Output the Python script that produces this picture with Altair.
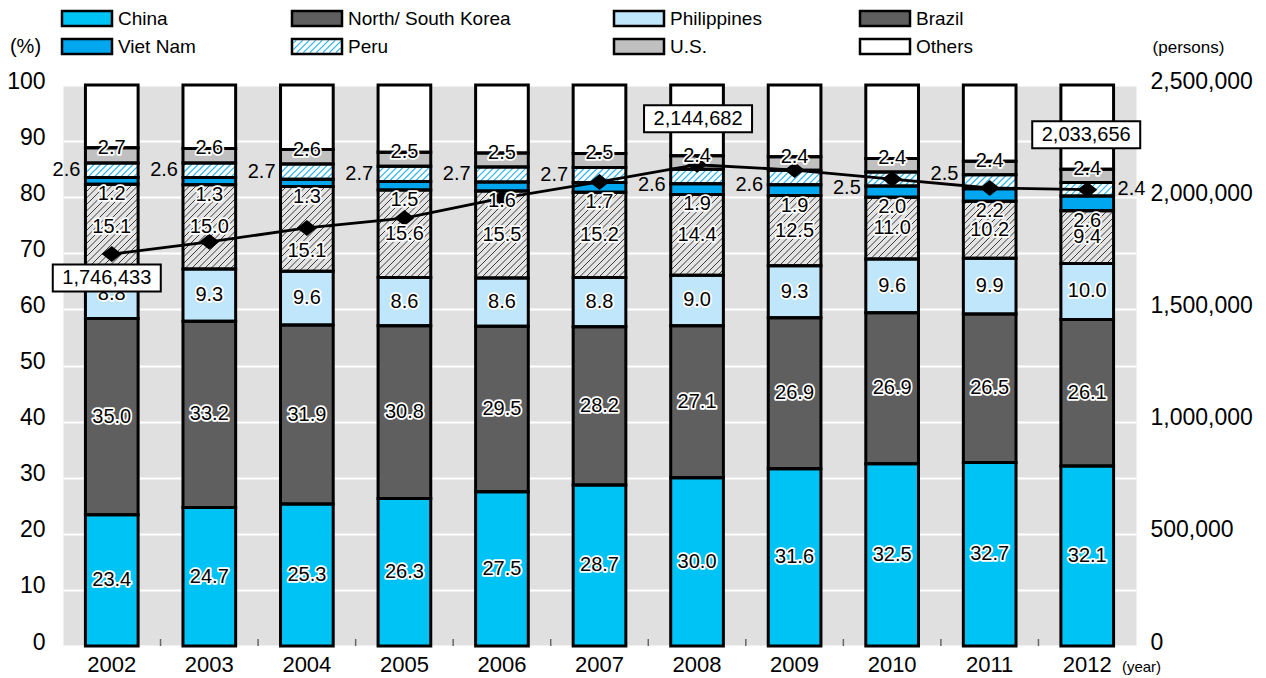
import math
import altair as alt
import pandas as pd

# ---- data: share of registered foreign residents by nationality (%) ----
years = [str(y) for y in range(2002, 2013)]
china = [23.4, 24.7, 25.3, 26.3, 27.5, 28.7, 30.0, 31.6, 32.5, 32.7, 32.1]
korea = [35.0, 33.2, 31.9, 30.8, 29.5, 28.2, 27.1, 26.9, 26.9, 26.5, 26.1]
philippines = [8.8, 9.3, 9.6, 8.6, 8.6, 8.8, 9.0, 9.3, 9.6, 9.9, 10.0]
brazil = [15.1, 15.0, 15.1, 15.6, 15.5, 15.2, 14.4, 12.5, 11.0, 10.2, 9.4]
vietnam = [1.2, 1.3, 1.3, 1.5, 1.6, 1.7, 1.9, 1.9, 2.0, 2.2, 2.6]
peru = [2.6, 2.6, 2.7, 2.7, 2.7, 2.7, 2.6, 2.6, 2.5, 2.5, 2.4]
us = [2.7, 2.6, 2.6, 2.5, 2.5, 2.5, 2.4, 2.4, 2.4, 2.4, 2.4]
others = [round(100 - sum(v), 1) for v in zip(china, korea, philippines, brazil, vietnam, peru, us)]

# total number of residents (persons), right axis
total_persons = [1746433, 1801000, 1863000, 1907000, 1996000, 2068000,
                 2144682, 2121000, 2081000, 2041000, 2033656]
labelled_years = ["2002", "2008", "2012"]

countries = ["China", "North/ South Korea", "Philippines", "Brazil",
             "Viet Nam", "Peru", "U.S.", "Others"]
series = [china, korea, philippines, brazil, vietnam, peru, us, others]

# ---- styling / layout ----
bar_fill = ["#00c3f5", "#5f5f5f", "#bfe6fa", "#e4e4e4", "#00a7ee", "#ffffff", "#c0c0c0", "#ffffff"]
legend_fill = ["#00c3f5", "#5f5f5f", "#bfe6fa", "#5f5f5f", "#00a7ee", "#ffffff", "#c0c0c0", "#ffffff"]
FONT = "Liberation Sans"

W, H = 1073, 561
PAD = {"left": 63, "top": 85, "right": 130, "bottom": 32}
N = len(years)
STEP = W / N
P_IN, P_OUT = 0.46, 0.23
BAND = STEP * (1 - P_IN)
PPU = H / 100.0
HATCH_GAP = 6.5

# label nudges in pixels (positive = down) so labels clear the line
LABEL_NUDGE = {("Brazil", "2004"): 22, ("Peru", "2008"): 9, ("Peru", "2009"): 7,
               ("Peru", "2010"): 9, ("Peru", "2011"): -8}

# ---- long table of stacked segments ----
rows = []
for i, yr in enumerate(years):
    base = 0.0
    for name, vals in zip(countries, series):
        v = vals[i]
        nudge = LABEL_NUDGE.get((name, yr), 0) / PPU
        rows.append(dict(year=yr, idx=i, country=name, value=v,
                         y0=base, y1=base + v, mid=base + v / 2 - nudge,
                         label=f"{v:.1f}"))
        base += v
seg = pd.DataFrame(rows)


def hatch_lines(left, right, top, bottom, gap):
    """Diagonal '/' lines clipped to a pixel rectangle (y grows downward)."""
    out = []
    k0 = int(math.floor((left + top) / gap))
    k1 = int(math.ceil((right + bottom) / gap))
    for k in range(k0, k1 + 1):
        c = k * gap
        xa = max(left, c - bottom)
        xb = min(right, c - top)
        if xb - xa > 0.4:
            out.append(dict(x=xa, y=c - xa, x2=xb, y2=c - xb))
    return out


def segment_hatch(country):
    out = []
    for r in seg[seg.country == country].itertuples():
        left = STEP * (r.idx + P_OUT)
        out += hatch_lines(left, left + BAND, H - r.y1 * PPU, H - r.y0 * PPU, HATCH_GAP)
    return pd.DataFrame(out)


brazil_hatch = segment_hatch("Brazil")
peru_hatch_rows = segment_hatch("Peru").to_dict("records")

# ---- legend table (pixel coordinates relative to plot origin) ----
LEG_COL_X = [-1, 229, 551, 797]
LEG_ROW_Y = [-66.5, -38.5]
SW_W, SW_H = 50, 15
leg_rows = []
for k, name in enumerate(countries):
    x0 = LEG_COL_X[k % 4]
    yc = LEG_ROW_Y[k // 4]
    leg_rows.append(dict(country=name, x=x0, x2=x0 + SW_W, y=yc - SW_H / 2,
                         y2=yc + SW_H / 2, tx=x0 + 56, ty=yc))
    if name == "Peru":
        peru_hatch_rows += hatch_lines(x0 + 1.3, x0 + SW_W - 1.3,
                                       yc - SW_H / 2 + 1.3, yc + SW_H / 2 - 1.3, HATCH_GAP)
legend_df = pd.DataFrame(leg_rows)
peru_hatch = pd.DataFrame(peru_hatch_rows)

ticks_df = pd.DataFrame({"x": [STEP * i for i in range(1, N)]})
ticks_df["y"] = H - 7
ticks_df["y2"] = H

persons_df = pd.DataFrame({"year": years, "persons": total_persons})
boxes_df = persons_df[persons_df.year.isin(labelled_years)].copy()
boxes_df["label"] = boxes_df.persons.map(lambda v: f"{v:,}")
BOX_OFFSETS = {"2002": (-5, 24), "2008": (1, -46), "2012": (-1, -55)}

# ---- scales ----
XS = alt.Scale(domain=years, paddingInner=P_IN, paddingOuter=P_OUT)
YS = alt.Scale(domain=[0, 100], nice=False)
RYS = alt.Scale(domain=[0, 2500000], nice=False)
PXS = alt.Scale(domain=[0, W], nice=False, zero=False)
PYS = alt.Scale(domain=[0, H], nice=False, zero=False, reverse=True)


def bx(**kw):
    return alt.X("year:O", scale=XS, axis=None, **kw)


def py(field):
    return alt.Y(f"{field}:Q", scale=YS, axis=None)


def px_enc():
    return dict(x=alt.X("x:Q", scale=PXS, axis=None), x2="x2:Q",
                y=alt.Y("y:Q", scale=PYS, axis=None), y2="y2:Q")


fill_scale = alt.Scale(domain=countries, range=bar_fill)

# ---- bars ----
bars = alt.Chart(seg).mark_bar(strokeWidth=0).encode(
    x=alt.X("year:O", scale=XS, axis=alt.Axis(
        labelAngle=0, labelFontSize=22, labelPadding=8, labelColor="black",
        ticks=False, domain=False, title="(year)", titleX=1078, titleY=20,
        titleFontSize=15, titleFontWeight="normal", titleAlign="center",
        titleBaseline="middle", titleColor="black")),
    y=alt.Y("y0:Q", scale=YS, axis=alt.Axis(
        values=list(range(0, 101, 10)), labelFontSize=23, labelColor="black",
        labelPadding=18, labelOffset=-4, ticks=False, domain=False,
        grid=True, gridColor="white", gridWidth=2,
        title="(%)", titleAngle=0, titleX=-38, titleY=-39, titleFontSize=20,
        titleFontWeight="normal", titleAlign="center", titleBaseline="middle",
        titleColor="black")),
    y2="y1:Q",
    color=alt.Color("country:N", scale=fill_scale, legend=None),
)

brazil_hatch_layer = alt.Chart(brazil_hatch).mark_rule(
    color="#3a3a3a", strokeWidth=1).encode(**px_enc())
peru_hatch_layer = alt.Chart(peru_hatch).mark_rule(
    color="#29b3ee", strokeWidth=1.2).encode(**px_enc())

outlines = alt.Chart(seg).mark_bar(
    fill="white", fillOpacity=0, stroke="black", strokeWidth=3).encode(
    x=bx(), y=py("y0"), y2="y1:Q")

x_ticks = alt.Chart(ticks_df).mark_rule(color="#666666", strokeWidth=1.5).encode(
    x=alt.X("x:Q", scale=PXS, axis=None),
    y=alt.Y("y:Q", scale=PYS, axis=None), y2="y2:Q")

# ---- total persons line ----
line = alt.Chart(persons_df).mark_line(color="black", strokeWidth=2.8).encode(
    x=bx(),
    y=alt.Y("persons:Q", scale=RYS, axis=alt.Axis(
        orient="right", values=[0, 500000, 1000000, 1500000, 2000000, 2500000],
        format=",.0f", labelFontSize=23, labelColor="black", labelPadding=14,
        labelOffset=-4, ticks=False, domain=False, grid=False,
        title="(persons)", titleAngle=0, titleX=52, titleY=-38, titleFontSize=17,
        titleFontWeight="normal", titleAlign="center", titleBaseline="middle",
        titleColor="black")),
)
diamonds = alt.Chart(persons_df).mark_point(
    shape="M-1,0L0,-0.8L1,0L0,0.8Z", size=400, filled=True, color="black",
    opacity=1).encode(x=bx(), y=alt.Y("persons:Q", scale=RYS, axis=None))


# ---- segment value labels ----
def halo_text(data, y_field, size=20, **mk):
    base = alt.Chart(data).encode(x=bx(), y=py(y_field), text="label:N")
    return [base.mark_text(stroke="white", strokeWidth=3.5, strokeJoin="round",
                           fill="white", fontSize=size, **mk),
            base.mark_text(fill="black", fontSize=size, **mk)]


mid_labels = halo_text(seg[seg.country.isin(["China", "North/ South Korea",
                                               "Philippines", "Brazil"])],
                       "mid", baseline="middle")
vn_labels = halo_text(seg[seg.country == "Viet Nam"], "y0", baseline="top", dy=0)
us_labels = halo_text(seg[seg.country == "U.S."], "y1", baseline="middle")

# Peru shares sit beside the bar: left of it, except for the last year
peru_left = alt.Chart(seg[(seg.country == "Peru") & (seg.year != "2012")]).mark_text(
    fill="black", fontSize=20, align="right", baseline="middle",
    dx=-(BAND / 2 + 5)).encode(x=bx(), y=py("mid"), text="label:N")
peru_right = alt.Chart(seg[(seg.country == "Peru") & (seg.year == "2012")]).mark_text(
    fill="black", fontSize=20, align="left", baseline="middle",
    dx=BAND / 2 + 4).encode(x=bx(), y=py("mid"), text="label:N")

# ---- boxed totals ----
box_layers = []
for yr in labelled_years:
    dx, dy = BOX_OFFSETS[yr]
    d = boxes_df[boxes_df.year == yr]
    enc = dict(x=bx(), y=alt.Y("persons:Q", scale=RYS, axis=None))
    box_layers.append(alt.Chart(d).mark_point(
        shape="M-1,-0.25L1,-0.25L1,0.25L-1,0.25Z", size=108 ** 2, filled=True,
        fill="white", stroke="black", strokeWidth=2, opacity=1,
        xOffset=dx, yOffset=dy).encode(**enc))
    box_layers.append(alt.Chart(d).mark_text(
        fontSize=20, fill="black", baseline="middle", dx=dx, dy=dy).encode(
        text="label:N", **enc))

# ---- legend ----
leg_fill = alt.Chart(legend_df).mark_rect(strokeWidth=0).encode(
    color=alt.Color("country:N", scale=alt.Scale(domain=countries, range=legend_fill),
                    legend=None), **px_enc())
leg_outline = alt.Chart(legend_df).mark_rect(
    fill="white", fillOpacity=0, stroke="black", strokeWidth=2.5).encode(**px_enc())
leg_text = alt.Chart(legend_df).mark_text(
    fontSize=19, fill="black", align="left", baseline="middle").encode(
    x=alt.X("tx:Q", scale=PXS, axis=None), y=alt.Y("ty:Q", scale=PYS, axis=None),
    text="country:N")

layers = ([bars, leg_fill, brazil_hatch_layer, peru_hatch_layer, outlines, leg_outline,
           x_ticks, line, diamonds] + mid_labels + vn_labels + us_labels +
          [peru_left, peru_right] + box_layers + [leg_text])

chart = alt.layer(*layers).resolve_scale(
    x="independent", y="independent", color="independent"
).properties(
    width=W, height=H, padding=PAD,
    autosize=alt.AutoSizeParams(type="none"),
).configure(
    font=FONT, background="white"
).configure_view(
    fill="#e0e0e0", stroke="transparent"
)

chart.save("out.html", embed_options={"renderer": "svg", "actions": False})
